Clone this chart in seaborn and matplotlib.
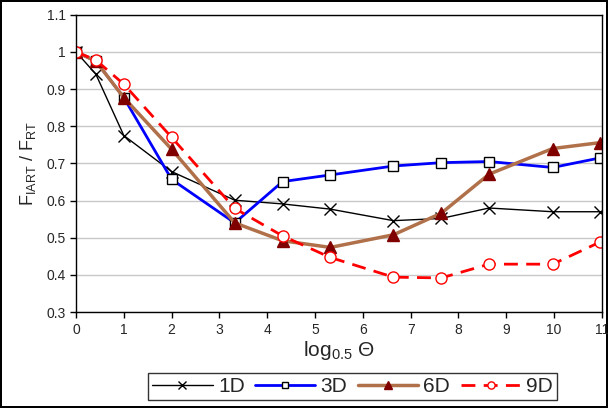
import numpy as np
import pandas as pd
import matplotlib
matplotlib.use('Agg')
import matplotlib.pyplot as plt
import seaborn as sns
from matplotlib.ticker import FormatStrFormatter

# x = log0.5(theta)
x = [0, 0.415, 1, 2, 3.32, 4.32, 5.32, 6.64, 7.64, 8.64, 9.97, 10.97]
d1 = [1.0, 0.94, 0.775, 0.678, 0.601, 0.591, 0.577, 0.546, 0.552, 0.580, 0.570, 0.570]
d3 = [1.0, 0.975, 0.877, 0.657, 0.540, 0.651, 0.669, 0.693, 0.702, 0.705, 0.689, 0.715]
d6 = [1.0, 0.975, 0.877, 0.738, 0.540, 0.492, 0.474, 0.508, 0.566, 0.671, 0.740, 0.756]
d9 = [1.0, 0.978, 0.913, 0.770, 0.579, 0.505, 0.447, 0.394, 0.392, 0.429, 0.429, 0.489]
labels = ['1D', '3D', '6D', '9D']

sns.set_style('white')
plt.rcParams['font.family'] = ['Liberation Sans', 'DejaVu Sans']
plt.rcParams['mathtext.fontset'] = 'custom'
plt.rcParams['mathtext.rm'] = 'Liberation Sans'
plt.rcParams['mathtext.it'] = 'Liberation Sans'

fig = plt.figure(figsize=(6.08, 4.08), dpi=100)
fig.patch.set_edgecolor('black')
fig.patch.set_linewidth(1.5)
ax = fig.add_axes([0.125, 0.235, 0.865, 0.729])

styles = [
    dict(color='black', lw=1, marker='x', ms=8, mec='black', mfc='none', mew=1, ls='-'),
    dict(color='#0000ff', lw=2, marker='s', ms=7, mec='black', mfc='white', mew=1, ls='-'),
    dict(color='#b0704a', lw=2.5, marker='^', ms=9, mec='#800000', mfc='#800000', mew=1, ls='-'),
    dict(color='#ff0000', lw=2, marker='o', ms=8, mec='red', mfc='white', mew=1, ls=(0, (5, 3))),
]

for lab, y, st in zip(labels, [d1, d3, d6, d9], styles):
    df = pd.DataFrame({'x': x, 'y': y})
    sns.lineplot(data=df, x='x', y='y', ax=ax, label=lab, color=st['color'],
                 linewidth=st['lw'], marker=st['marker'], markersize=st['ms'],
                 markeredgecolor=st['mec'], markerfacecolor=st['mfc'],
                 markeredgewidth=st['mew'], linestyle=st['ls'])

ax.set_xlim(0, 11)
ax.set_ylim(0.3, 1.1)
ax.set_xticks(range(0, 12))
ax.set_yticks(np.arange(0.3, 1.101, 0.1))
ax.yaxis.set_major_formatter(FormatStrFormatter('%g'))
ax.yaxis.grid(True, color='#c8c8c8', lw=1)
ax.set_axisbelow(True)
for s in ax.spines.values():
    s.set_color('black')
    s.set_linewidth(1)
ax.tick_params(axis='both', direction='out', length=4, width=1, color='black',
               labelsize=10, bottom=True, left=True)
ax.set_xlabel(r'log$_{0.5}$ Θ', fontsize=15, labelpad=2)
ax.set_ylabel(r'F$_{\mathrm{IART}}$ / F$_{\mathrm{RT}}$', fontsize=13, labelpad=6)

ax.get_legend().remove()
handles, lbls = ax.get_legend_handles_labels()
leg = fig.legend(handles, lbls, loc='upper center', bbox_to_anchor=(0.58, 0.086),
                 ncol=4, frameon=True, fancybox=False, edgecolor='black',
                 fontsize=15, handlelength=2.9, handletextpad=0.25, columnspacing=0.5,
                 borderpad=0.2, borderaxespad=0, markerscale=0.65)
leg.get_frame().set_linewidth(1)

fig.savefig('out.png', dpi=100)
